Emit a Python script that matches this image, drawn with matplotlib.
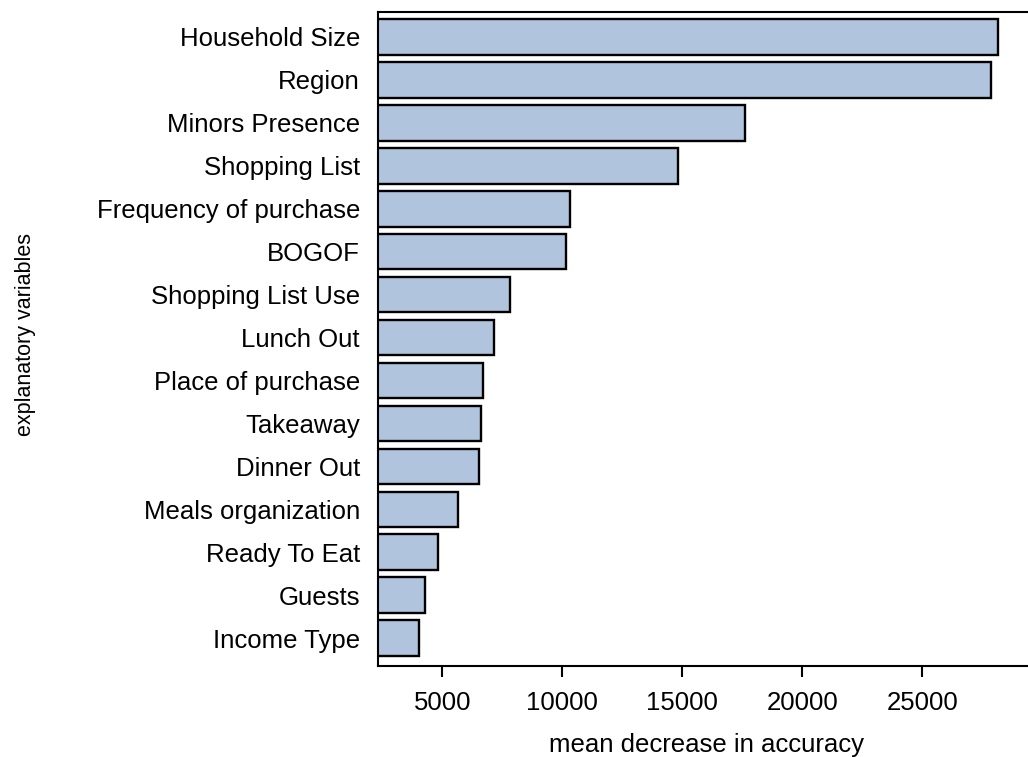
import matplotlib
matplotlib.use("Agg")
import matplotlib.pyplot as plt

# Data (top to bottom as displayed)
variables = ["Household Size", "Region", "Minors Presence", "Shopping List",
             "Frequency of purchase", "BOGOF", "Shopping List Use", "Lunch Out",
             "Place of purchase", "Takeaway", "Dinner Out", "Meals organization",
             "Ready To Eat", "Guests", "Income Type"]
importance = [28150, 27880, 17610, 14830, 10310, 10140, 7820, 7150,
              6680, 6600, 6510, 5670, 4840, 4290, 4015]
xticks = [5000, 10000, 15000, 20000, 25000]

plt.rcParams['font.family'] = ['Liberation Sans', 'DejaVu Sans']

fig = plt.figure(figsize=(10.28, 7.57), dpi=100)
ax = fig.add_axes([378/1028, (757-665.7)/757, 1 - 378/1028, (665.7-12)/757])

n = len(variables)
ypos = list(range(n - 1, -1, -1))
ax.barh(ypos, importance, height=0.83, color='#B0C4DE', edgecolor='black',
        linewidth=1.7, zorder=2)

ax.set_xlim(2319, 29405)
ax.set_ylim(-0.64, n - 1 + 0.58)

ax.set_yticks(ypos)
ax.set_yticklabels(variables)
ax.set_xticks(xticks)
ax.set_xticklabels([str(t) for t in xticks])

ax.tick_params(axis='y', length=0, pad=13, labelsize=18.5)
ax.tick_params(axis='x', length=8, width=1.5, pad=10, labelsize=18.5, direction='out')

for s in ['left', 'bottom', 'top']:
    ax.spines[s].set_linewidth(1.5)
ax.spines['right'].set_visible(False)

ax.set_xlabel('mean decrease in accuracy', fontsize=18.5, va='baseline')
ax.xaxis.set_label_coords(0.506, -0.1316)
ax.set_ylabel('explanatory variables', fontsize=15.5, va='center', ha='center')
ax.yaxis.set_label_coords((26 - 378) / 650, 0.506)

fig.savefig('out.png', dpi=100)
